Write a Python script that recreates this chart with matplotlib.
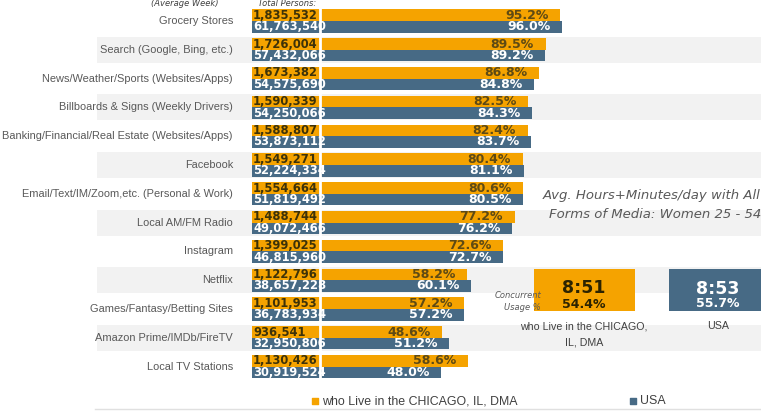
import matplotlib.pyplot as plt
from matplotlib.patches import Rectangle

categories = ["Grocery Stores", "Search (Google, Bing, etc.)",
              "News/Weather/Sports (Websites/Apps)", "Billboards & Signs (Weekly Drivers)",
              "Banking/Financial/Real Estate (Websites/Apps)", "Facebook",
              "Email/Text/IM/Zoom,etc. (Personal & Work)", "Local AM/FM Radio",
              "Instagram", "Netflix", "Games/Fantasy/Betting Sites",
              "Amazon Prime/IMDb/FireTV", "Local TV Stations"]
chicago_persons = [1835532, 1726004, 1673382, 1590339, 1588807, 1549271, 1554664,
                   1488744, 1399025, 1122796, 1101953, 936541, 1130426]
usa_persons = [61763540, 57432066, 54575690, 54250066, 53873112, 52224334, 51819492,
               49072466, 46815960, 38657228, 36783934, 32950806, 30919524]
chicago_pct = [95.2, 89.5, 86.8, 82.5, 82.4, 80.4, 80.6, 77.2, 72.6, 58.2, 57.2, 48.6, 58.6]
usa_pct = [96.0, 89.2, 84.8, 84.3, 83.7, 81.1, 80.5, 76.2, 72.7, 60.1, 57.2, 51.2, 48.0]
chicago_time, chicago_conc = "8:51", "54.4%"
usa_time, usa_conc = "8:53", "55.7%"

ORANGE = "#F5A300"
BLUE = "#476A85"
GREY_TXT = "#595959"
LAB_FONT = "Liberation Sans"

fig = plt.figure(figsize=(7.61, 4.11), dpi=100)
ax = fig.add_axes([0, 0, 1, 1])

# pixel -> data helpers (0% sits at x=320px, 2.52 px per %, rows 28.8px apart)
X0, XS, Y0, YS = 320, 2.52, 21, 28.8
def vx(px):
    return (px - X0) / XS
def ry(py):
    return (py - Y0) / YS

ax.set_xlim(vx(0), vx(761))
ax.set_ylim(ry(411), ry(0))
ax.axis("off")

base = vx(252)
n = len(categories)

# alternating grey bands
for i in range(1, n, 2):
    ax.add_patch(Rectangle((vx(97), i - 0.45), vx(761) - vx(97), 0.9,
                           color="#f2f2f2", lw=0, zorder=0))

for i in range(n):
    ax.barh(i - 0.2, chicago_pct[i] - base, left=base, height=0.4, color=ORANGE, zorder=2)
    ax.barh(i + 0.2, usa_pct[i] - base, left=base, height=0.4, color=BLUE, zorder=2)
    ax.text(vx(233), i, categories[i], ha="right", va="center", fontsize=7.9,
            color=GREY_TXT, family=LAB_FONT)
    ax.text(vx(253), i - 0.2, f"{chicago_persons[i]:,}", ha="left", va="center",
            fontsize=8.3, fontweight="bold", color="#3d3208", zorder=3)
    ax.text(vx(253), i + 0.2, f"{usa_persons[i]:,}", ha="left", va="center",
            fontsize=8.3, fontweight="bold", color="white", zorder=3)
    ax.text(chicago_pct[i] - 4.6, i - 0.2, f"{chicago_pct[i]:.1f}%", ha="right",
            va="center", fontsize=9, fontweight="bold", color="#5e4a14", zorder=3)
    ax.text(usa_pct[i] - 4.6, i + 0.2, f"{usa_pct[i]:.1f}%", ha="right",
            va="center", fontsize=9, fontweight="bold", color="white", zorder=3)

# white divider at 0%
ax.plot([0, 0], [-0.5, n - 0.5], color="white", lw=2, zorder=4)

# headers
ax.text(vx(185), ry(3), "(Average Week)", ha="center", va="center", fontsize=6,
        style="italic", color="#404040")
ax.text(vx(258), ry(3), "Total Persons:", ha="left", va="center", fontsize=6,
        style="italic", color="#404040")

# summary box
ax.text(vx(652), ry(195), "Avg. Hours+Minutes/day with All", ha="center", va="center",
        fontsize=9.5, style="italic", color=GREY_TXT)
ax.text(vx(655), ry(214), "Forms of Media: Women 25 - 54", ha="center", va="center",
        fontsize=9.5, style="italic", color=GREY_TXT)

ax.add_patch(Rectangle((vx(534), ry(269)), vx(635) - vx(534), ry(311) - ry(269),
                       color=ORANGE, lw=0, zorder=2))
ax.add_patch(Rectangle((vx(669), ry(269)), vx(770) - vx(669), ry(311) - ry(269),
                       color=BLUE, lw=0, zorder=2))
ax.text(vx(584), ry(288), chicago_time, ha="center", va="center", fontsize=12.5,
        fontweight="bold", color="#2b2300", zorder=3)
ax.text(vx(584), ry(304), chicago_conc, ha="center", va="center", fontsize=9,
        fontweight="bold", color="#2b2300", zorder=3)
ax.text(vx(718), ry(289), usa_time, ha="center", va="center", fontsize=12.5,
        fontweight="bold", color="white", zorder=3)
ax.text(vx(718), ry(303), usa_conc, ha="center", va="center", fontsize=9,
        fontweight="bold", color="white", zorder=3)
ax.text(vx(541), ry(295), "Concurrent", ha="right", va="center", fontsize=6,
        style="italic", color=GREY_TXT, zorder=4)
ax.text(vx(541), ry(307), "Usage %", ha="right", va="center", fontsize=6,
        style="italic", color=GREY_TXT, zorder=4)
ax.text(vx(584), ry(326), "who Live in the CHICAGO,", ha="center", va="center",
        fontsize=7.7, color="#404040", family=LAB_FONT)
ax.text(vx(584), ry(342), "IL, DMA", ha="center", va="center", fontsize=7.7,
        color="#404040", family=LAB_FONT)
ax.text(vx(718), ry(326), "USA", ha="center", va="center", fontsize=7.7,
        color="#404040", family=LAB_FONT)

# legend
ax.scatter([vx(315)], [ry(401)], marker="s", s=22, color=ORANGE, zorder=3)
ax.text(vx(322), ry(401), "who Live in the CHICAGO, IL, DMA", ha="left", va="center",
        fontsize=8.9, color="#404040", family=LAB_FONT)
ax.scatter([vx(633)], [ry(401)], marker="s", s=22, color=BLUE, zorder=3)
ax.text(vx(640), ry(401), "USA", ha="left", va="center", fontsize=8.9,
        color="#404040", family=LAB_FONT)
ax.plot([vx(95), vx(761)], [ry(409), ry(409)], color="#e0e0e0", lw=1)

fig.savefig("out.png", dpi=100)
